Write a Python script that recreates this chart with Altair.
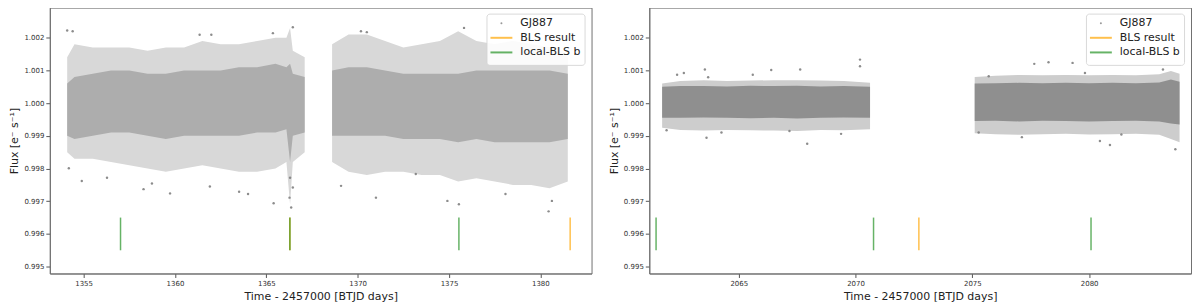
import altair as alt
import pandas as pd

# ---------------- data ----------------
# Left panel (Sector 1): envelope of the flux cloud per time knot
L_t = [1354.1, 1354.5, 1355.5, 1356.5, 1357.5, 1358.5, 1359.5, 1360.5, 1361.5, 1362.5,
       1363.5, 1364.5, 1365.5, 1366.1, 1366.3, 1366.45, 1367.1,
       1368.6, 1369.5, 1370.5, 1371.5, 1372.5, 1373.5, 1374.5, 1375.5, 1376.5,
       1377.5, 1378.5, 1379.5, 1380.5, 1381.5]
L_seg = [1] * 17 + [2] * 14
L_outer_lo = [0.9985, 0.9983, 0.9983, 0.9982, 0.9981, 0.9980, 0.9979, 0.9980, 0.9981, 0.9980,
              0.9979, 0.9979, 0.9980, 0.9982, 0.9969, 0.9982, 0.9985,
              0.9982, 0.9979, 0.9978, 0.9979, 0.9979, 0.9978, 0.9978, 0.9976, 0.9977,
              0.9976, 0.9975, 0.9975, 0.9974, 0.9976]
L_core_lo = [0.9990, 0.9989, 0.9990, 0.9991, 0.9991, 0.9990, 0.9989, 0.9990, 0.9990, 0.9990,
             0.9990, 0.9991, 0.9991, 0.9992, 0.9982, 0.9990, 0.9991,
             0.9990, 0.9990, 0.9990, 0.9990, 0.9989, 0.9989, 0.9989, 0.9988, 0.9989,
             0.9988, 0.9988, 0.9988, 0.9988, 0.9989]
L_core_hi = [1.0006, 1.0008, 1.0009, 1.0010, 1.0010, 1.0009, 1.0009, 1.0010, 1.0010, 1.0010,
             1.0011, 1.0011, 1.0012, 1.0011, 1.0012, 1.0009, 1.0008,
             1.0010, 1.0011, 1.0011, 1.0010, 1.0009, 1.0009, 1.0009, 1.0009, 1.0010,
             1.0010, 1.0010, 1.0010, 1.0010, 1.0009]
L_outer_hi = [1.0014, 1.0018, 1.0017, 1.0017, 1.0017, 1.0016, 1.0017, 1.0017, 1.0019, 1.0018,
              1.0018, 1.0019, 1.0020, 1.0020, 1.0023, 1.0016, 1.0014,
              1.0018, 1.0021, 1.0021, 1.0019, 1.0017, 1.0018, 1.0019, 1.0022, 1.0019,
              1.0018, 1.0019, 1.0018, 1.0017, 1.0014]

# Left panel: isolated points outside the cloud
LP_t = [1354.19, 1354.9, 1354.1, 1354.4, 1356.28, 1358.28, 1358.74, 1359.73, 1361.91, 1363.51,
        1364.0, 1365.4, 1361.35, 1361.99, 1365.36, 1366.45, 1366.36, 1366.27, 1366.45, 1366.3,
        1369.09, 1371.0, 1370.18, 1370.5, 1373.18, 1374.91, 1375.54, 1375.82, 1378.09, 1380.45,
        1380.63]
LP_f = [0.99801, 0.99762, 1.00222, 1.00220, 0.99772, 0.99737, 0.99754, 0.99724, 0.99745, 0.99729,
        0.99722, 0.99694, 1.00209, 1.00209, 1.00214, 1.00232, 0.99681, 0.99711, 0.99742, 0.99772,
        0.99747, 0.99711, 1.00220, 1.00217, 0.99783, 0.99701, 0.99691, 1.00230, 0.99722, 0.99669,
        0.99701]

# Right panel (Sector 28): envelope of the flux cloud
R_t = [2061.72, 2062.5, 2063.5, 2064.5, 2065.5, 2066.5, 2067.5, 2068.5, 2069.5, 2070.62,
       2075.1, 2076.0, 2077.0, 2078.0, 2079.0, 2080.0, 2081.0, 2082.0, 2083.0, 2083.5, 2083.87]
R_seg = [1] * 10 + [2] * 11
R_outer_lo = [0.99925, 0.99918, 0.99916, 0.99918, 0.99917, 0.99916, 0.99915, 0.99918, 0.99917, 0.99920,
              0.99908, 0.99905, 0.99903, 0.99905, 0.99906, 0.99904, 0.99905, 0.99906, 0.99903, 0.99890, 0.99880]
R_core_lo = [0.99955, 0.99955, 0.99956, 0.99955, 0.99954, 0.99955, 0.99953, 0.99955, 0.99956, 0.99955,
             0.99945, 0.99946, 0.99944, 0.99946, 0.99945, 0.99944, 0.99945, 0.99946, 0.99944, 0.99938, 0.99935]
R_core_hi = [1.00050, 1.00052, 1.00052, 1.00051, 1.00053, 1.00052, 1.00053, 1.00051, 1.00052, 1.00050,
             1.00060, 1.00061, 1.00062, 1.00061, 1.00062, 1.00061, 1.00062, 1.00061, 1.00063, 1.00072, 1.00065]
R_outer_hi = [1.00060, 1.00068, 1.00070, 1.00068, 1.00069, 1.00070, 1.00070, 1.00069, 1.00068, 1.00062,
              1.00080, 1.00084, 1.00086, 1.00085, 1.00086, 1.00085, 1.00086, 1.00085, 1.00088, 1.00098, 1.00090]

RP_t = [2063.55, 2063.69, 2063.62, 2062.36, 2062.65, 2066.39, 2067.63, 2067.93, 2070.19, 2070.19,
        2065.6, 2064.26, 2061.91, 2069.38, 2067.17,
        2077.65, 2078.26, 2079.29, 2080.46, 2080.89, 2083.69, 2083.16, 2075.27, 2077.12, 2075.7,
        2079.82, 2081.38]
RP_f = [1.00103, 1.00079, 0.99894, 1.00087, 1.00092, 1.00101, 1.00103, 0.99876, 1.00133, 1.00113,
        1.00087, 0.99910, 0.99917, 0.99906, 0.99915,
        1.00120, 1.00125, 1.00123, 0.99884, 0.99872, 0.99859, 1.00103, 0.99910, 0.99896, 1.00082,
        1.00092, 0.99904]

# transit markers
L_bls = [1366.29, 1381.63]
L_local = [1357.02, 1366.29, 1375.54]
R_bls = [2072.71]
R_local = [2061.46, 2070.77, 2080.08]
MARK_LO = 0.9955
MARK_HI = 0.9965

SERIES = ["GJ887", "BLS result", "local-BLS b"]
SERIES_COLORS = ["#808080", "orange", "green"]

L_xdom = [1353.15, 1382.8]
R_xdom = [2061.17, 2084.36]
YDOM = [0.99479, 1.00292]
L_xticks = [1355, 1360, 1365, 1370, 1375, 1380]
R_xticks = [2065, 2070, 2075, 2080]
YTICKS = [0.995, 0.996, 0.997, 0.998, 0.999, 1.000, 1.001, 1.002]

FONT = "DejaVu Sans"
W, H = 544, 267


def legend_layers():
    """Matplotlib-like legend box drawn in the upper-right corner of the panel."""
    layers = [
        alt.Chart().mark_rect(fill="white", stroke="#d6d6d6", strokeWidth=1,
                              cornerRadius=3, opacity=0.9).encode(
            x=alt.value(439), x2=alt.value(537.5), y=alt.value(6.5), y2=alt.value(58)
        )
    ]
    rows = [15.7, 30.3, 45.0]
    # GJ887: small dot marker
    layers.append(alt.Chart().mark_circle(size=4, color=SERIES_COLORS[0], opacity=0.8).encode(
        x=alt.value(453.5), y=alt.value(rows[0])))
    # BLS result / local-BLS b: line markers
    for i, op in ((1, 0.7), (2, 0.6)):
        layers.append(alt.Chart().mark_rule(color=SERIES_COLORS[i], strokeWidth=2, opacity=op).encode(
            x=alt.value(442.5), x2=alt.value(464.5), y=alt.value(rows[i])))
    for i in range(3):
        layers.append(alt.Chart().mark_text(align="left", baseline="middle", font=FONT,
                                            fontSize=11, color="#222222").encode(
            x=alt.value(472.5), y=alt.value(rows[i]), text=alt.value(SERIES[i])))
    return layers


def panel(t, seg, olo, clo, chi, ohi, pt, pf, bls, local, xdom, xticks,
          outer_col, core_col):
    env = pd.DataFrame({"t": t, "seg": seg, "olo": olo, "clo": clo,
                        "chi": chi, "ohi": ohi})
    pts = pd.DataFrame({"t": pt, "f": pf})
    mk_b = pd.DataFrame({"t": bls, "lo": MARK_LO, "hi": MARK_HI})
    mk_l = pd.DataFrame({"t": local, "lo": MARK_LO, "hi": MARK_HI})

    xs = alt.Scale(domain=xdom, nice=False, zero=False)
    ys = alt.Scale(domain=YDOM, nice=False, zero=False)
    xax = alt.Axis(values=xticks, tickCount=len(xticks), format="d",
                   title="Time - 2457000 [BTJD days]", grid=False, labelOverlap=False)
    yax = alt.Axis(values=YTICKS, tickCount=len(YTICKS), format=".3f",
                   title="Flux [e⁻ s⁻¹]", grid=False, labelOverlap=False)

    outer = alt.Chart(env).mark_area(color=outer_col, opacity=1).encode(
        x=alt.X("t:Q", scale=xs, axis=xax),
        y=alt.Y("olo:Q", scale=ys, axis=yax),
        y2="ohi:Q",
        detail="seg:N",
    )
    core = alt.Chart(env).mark_area(color=core_col, opacity=1).encode(
        x=alt.X("t:Q"), y=alt.Y("clo:Q"), y2="chi:Q", detail="seg:N"
    )
    dots = alt.Chart(pts).mark_circle(size=6, opacity=0.9, color=SERIES_COLORS[0]).encode(
        x=alt.X("t:Q"), y=alt.Y("f:Q")
    )
    rule_b = alt.Chart(mk_b).mark_rule(strokeWidth=1.5, opacity=0.7,
                                       color=SERIES_COLORS[1]).encode(
        x=alt.X("t:Q"), y=alt.Y("lo:Q"), y2="hi:Q")
    rule_l = alt.Chart(mk_l).mark_rule(strokeWidth=1.5, opacity=0.6,
                                       color=SERIES_COLORS[2]).encode(
        x=alt.X("t:Q"), y=alt.Y("lo:Q"), y2="hi:Q")
    return alt.layer(outer, core, dots, rule_b, rule_l, *legend_layers()).properties(
        width=W, height=H)


left = panel(L_t, L_seg, L_outer_lo, L_core_lo, L_core_hi, L_outer_hi, LP_t, LP_f,
             L_bls, L_local, L_xdom, L_xticks, "#d8d8d8", "#adadad")
right = panel(R_t, R_seg, R_outer_lo, R_core_lo, R_core_hi, R_outer_hi, RP_t, RP_f,
              R_bls, R_local, R_xdom, R_xticks, "#cdcdcd", "#8f8f8f")

chart = alt.hconcat(left, right, spacing=15).resolve_scale(
    x="independent", y="independent"
).properties(
    padding={"left": 0, "top": -2, "right": 0, "bottom": 0}
).configure_view(
    stroke="#707070", strokeWidth=1
).configure_axis(
    labelFont=FONT, labelFontSize=7, labelColor="#333333", labelPadding=2,
    titleFont=FONT, titleFontSize=11, titleFontWeight="normal", titleColor="#222222",
    titlePadding=4, tickSize=4, tickColor="#555555", domainColor="#707070",
)

chart.save("out.html", embed_options={"renderer": "svg", "actions": False})
